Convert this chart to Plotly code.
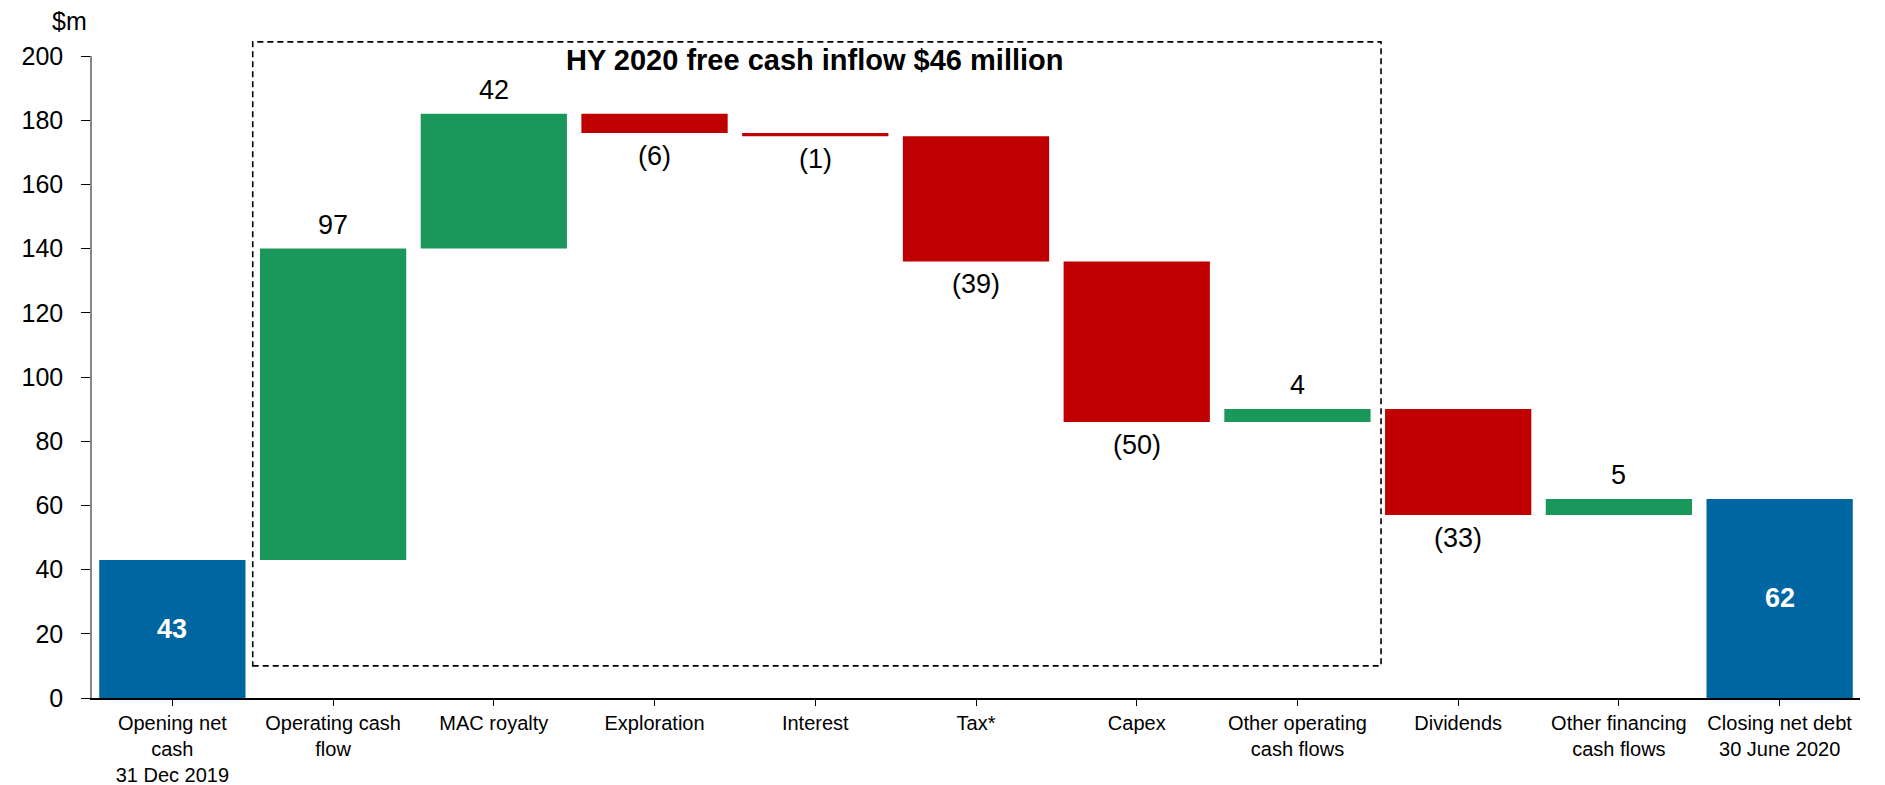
import plotly.graph_objects as go

categories = [
    "Opening net<br>cash<br>31 Dec 2019",
    "Operating cash<br>flow",
    "MAC royalty",
    "Exploration",
    "Interest",
    "Tax*",
    "Capex",
    "Other operating<br>cash flows",
    "Dividends",
    "Other financing<br>cash flows",
    "Closing net debt<br>30 June 2020",
]
values = [43, 97, 42, -6, -1, -39, -50, 4, -33, 5, 62]
measures = ["total", "rel", "rel", "rel", "rel", "rel", "rel", "rel", "rel", "rel", "total"]
labels = ["43", "97", "42", "(6)", "(1)", "(39)", "(50)", "4", "(33)", "5", "62"]
y_ticks = [0, 20, 40, 60, 80, 100, 120, 140, 160, 180, 200]

BLUE = "#0066A1"
GREEN = "#1A985C"
RED = "#C00000"
FONT = "Liberation Sans, Arial, sans-serif"

bases, heights, colors = [], [], []
running = 0
for v, m in zip(values, measures):
    if m == "total":
        bases.append(0)
        heights.append(v)
        colors.append(BLUE)
        running = v
    else:
        if v >= 0:
            bases.append(running)
            heights.append(v)
            colors.append(GREEN)
        else:
            bases.append(running + v)
            heights.append(-v)
            colors.append(RED)
        running += v

x_idx = list(range(len(categories)))

fig = go.Figure()
fig.add_trace(go.Bar(
    x=x_idx, y=heights, base=bases,
    marker=dict(color=colors, line=dict(width=0)),
    width=0.91, hoverinfo="skip", showlegend=False,
))

annotations = []
for i, (v, m, lab, b, h) in enumerate(zip(values, measures, labels, bases, heights)):
    if m == "total":
        annotations.append(dict(x=i, y=b + h / 2, xref="x", yref="y", text="<b>%s</b>" % lab,
                                showarrow=False, font=dict(family=FONT, size=27, color="white"),
                                yanchor="middle"))
    elif v >= 0:
        annotations.append(dict(x=i, y=b + h, xref="x", yref="y", text=lab, showarrow=False,
                                font=dict(family=FONT, size=27, color="black"),
                                yanchor="bottom", yshift=7))
    else:
        annotations.append(dict(x=i, y=b, xref="x", yref="y", text=lab, showarrow=False,
                                font=dict(family=FONT, size=27, color="black"),
                                yanchor="top", yshift=-6))

annotations.append(dict(x=4.0, y=198.8, xref="x", yref="y",
                        text="<b>HY 2020 free cash inflow $46 million</b>",
                        showarrow=False, font=dict(family=FONT, size=29, color="black"),
                        yanchor="middle"))
annotations.append(dict(x=(61 - 84) / 1768, y=(690 - 13) / 642,
                        xref="paper", yref="paper", text="$m",
                        showarrow=False, font=dict(family=FONT, size=25, color="black"),
                        xanchor="center", yanchor="middle"))

fig.update_layout(
    width=1885, height=785,
    margin=dict(l=84, r=33, t=48, b=95, autoexpand=False),
    paper_bgcolor="white", plot_bgcolor="white",
    bargap=0.09,
    font=dict(family=FONT, color="black"),
    annotations=annotations,
    shapes=[dict(type="rect", xref="x", yref="paper", x0=0.5, x1=7.52,
                 y0=10 / 200, y1=204.4 / 200,
                 line=dict(color="black", width=1.6, dash="6px,4px"),
                 fillcolor="rgba(0,0,0,0)")],
)
fig.update_xaxes(
    range=[-0.5, 10.5], tickmode="array", tickvals=x_idx, ticktext=categories,
    showline=True, linecolor="black", linewidth=1.5, automargin=False,
    ticks="outside", tickson="boundaries", ticklen=6, tickcolor="black", tickwidth=1,
    tickfont=dict(family=FONT, size=20, color="black"),
    showgrid=False, zeroline=False,
)
fig.update_yaxes(
    range=[0, 200], tickvals=y_ticks,
    showline=True, linecolor="#888888", linewidth=1.5, automargin=False,
    ticks="outside", ticklen=9, tickcolor="black", tickwidth=1,
    ticklabelstandoff=13,
    tickfont=dict(family=FONT, size=25, color="black"),
    showgrid=False, zeroline=False,
)

fig.write_html("out.html")
